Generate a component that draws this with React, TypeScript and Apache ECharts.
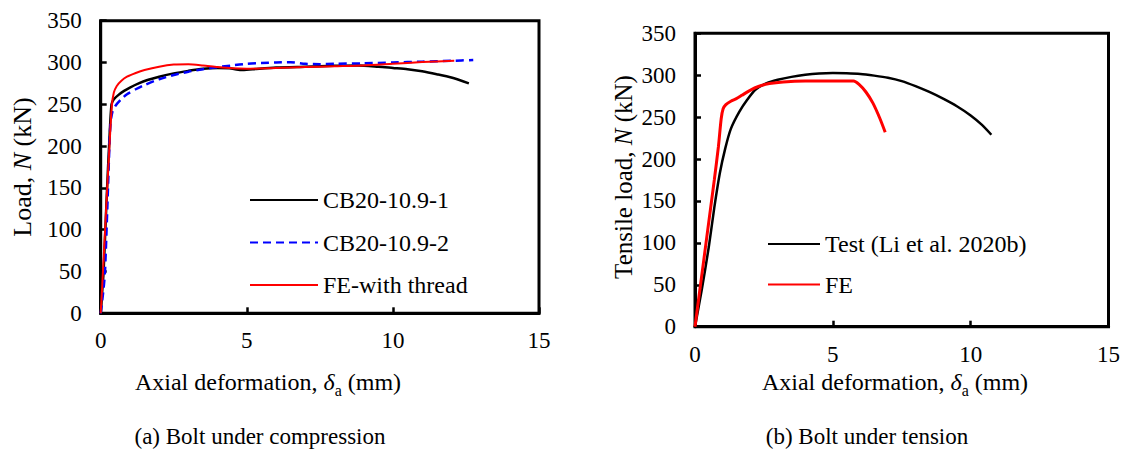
import React, { useEffect, useRef } from "react";
import * as echarts from "echarts";

const FONT = "Liberation Serif";

// Axis ranges shared by both panels
const X_RANGE = { min: 0, max: 15, interval: 5 };
const Y_RANGE = { min: 0, max: 350, interval: 50 };

// (a) Bolt under compression — [axial deformation (mm), load (kN)]
const compTest1: [number, number][] = [
  [0, 0], [0.05, 25], [0.1, 50], [0.2, 135], [0.3, 210], [0.37, 250], [0.45, 256],
  [0.6, 261], [0.8, 266], [1.0, 270], [1.3, 275], [1.6, 279], [2.0, 283], [2.5, 287],
  [3.0, 290], [3.5, 292.5], [4.0, 293.5], [4.4, 293], [4.8, 291], [5.2, 292], [6.0, 294],
  [7.0, 295], [8.0, 296], [8.8, 296.5], [9.5, 295], [10.0, 293.5], [10.5, 292],
  [11.0, 289.5], [11.5, 286], [12.0, 282], [12.6, 275],
];
const compTest2: [number, number][] = [
  [0, 0], [0.1, 30], [0.15, 52], [0.25, 150], [0.33, 225], [0.4, 241], [0.5, 248],
  [0.7, 256], [0.9, 262], [1.2, 268], [1.5, 273], [2.0, 280], [2.5, 285], [3.0, 289],
  [3.5, 292], [4.0, 294.5], [4.5, 296.5], [5.0, 298.5], [5.5, 299.5], [6.0, 300],
  [6.5, 300.3], [7.0, 298.5], [7.5, 298], [8.0, 298.5], [9.0, 299], [10.0, 300],
  [11.0, 301], [12.0, 302], [12.75, 303],
];
const compFE: [number, number][] = [
  [0, 0], [0.1, 65], [0.2, 135], [0.3, 200], [0.38, 248], [0.45, 264], [0.55, 272],
  [0.7, 278], [0.9, 283], [1.2, 287.5], [1.5, 291], [2.0, 295], [2.5, 297.5], [3.0, 298],
  [3.5, 296.5], [4.0, 294.5], [4.5, 293], [5.0, 292.5], [6.0, 293.5], [7.0, 294.5],
  [8.0, 295.5], [9.0, 296.5], [10.0, 298.5], [11.0, 300.5], [12.1, 302],
];

// (b) Bolt under tension — [axial deformation (mm), tensile load (kN)]
const tensTest: [number, number][] = [
  [0, 0], [0.25, 45], [0.5, 95], [0.7, 142], [0.9, 183], [1.1, 213], [1.3, 236],
  [1.6, 256], [1.9, 271], [2.2, 283], [2.6, 290.5], [3.0, 294.5], [3.5, 298],
  [4.0, 300.5], [4.5, 302], [5.0, 302.5], [5.5, 302.3], [6.0, 301.5], [6.5, 299.5],
  [7.0, 297], [7.5, 293], [8.0, 287], [8.5, 280], [9.0, 272], [9.5, 263], [10.0, 252],
  [10.4, 241], [10.75, 229],
];
const tensFE: [number, number][] = [
  [0, 0], [0.3, 75], [0.5, 125], [0.7, 175], [0.85, 215], [0.95, 248], [1.02, 260],
  [1.12, 265], [1.3, 269], [1.5, 272], [1.7, 276], [2.0, 282], [2.3, 286.5], [2.7, 290],
  [3.2, 292], [4.0, 293], [5.0, 293], [5.75, 293], [5.95, 289], [6.2, 280], [6.45, 267],
  [6.7, 249], [6.9, 232],
];

const compNames = ["CB20-10.9-1", "CB20-10.9-2", "FE-with thread"];
const tensNames = ["Test (Li et al. 2020b)", "FE"];
const captions = ["(a) Bolt under compression", "(b) Bolt under tension"];

const axisBase = (range: { min: number; max: number; interval: number }, gridIndex: number, margin: number) => ({
  type: "value" as const,
  gridIndex,
  min: range.min,
  max: range.max,
  interval: range.interval,
  axisLine: { show: true, onZero: false, lineStyle: { color: "#000", width: 3 } },
  axisTick: { show: true, inside: true, length: 6, lineStyle: { color: "#000", width: 2.5 } },
  axisLabel: { color: "#000", fontFamily: FONT, fontSize: 23, margin },
  splitLine: { show: false },
});

const titleRich = (size: number) => ({
  n: { fontFamily: FONT, fontSize: size, color: "#000", lineHeight: size + 8 },
  i: { fontFamily: FONT, fontSize: size, color: "#000", fontStyle: "italic", lineHeight: size + 8 },
  s: { fontFamily: FONT, fontSize: Math.round(size * 0.65), color: "#000", verticalAlign: "bottom", lineHeight: Math.round(size * 0.65) },
});

const legendBase = {
  orient: "vertical" as const,
  itemHeight: 14,
  padding: 0,
  selectedMode: false,
  itemStyle: { opacity: 0 },
  textStyle: { fontFamily: FONT, fontSize: 24, color: "#000", lineHeight: 28 },
};

export default function App() {
  const ref = useRef<HTMLDivElement>(null);

  useEffect(() => {
    if (!ref.current) return;
    const chart = echarts.init(ref.current, undefined, { renderer: "svg" });

    const line = (name: string, data: [number, number][], idx: number, color: string, width: number, type: any = "solid") => ({
      name,
      type: "line" as const,
      xAxisIndex: idx,
      yAxisIndex: idx,
      data,
      symbol: "none",
      smooth: 0.25,
      lineStyle: { color, width, type },
      itemStyle: { color },
      emphasis: { disabled: true },
    });

    const captionStyle = { fontFamily: FONT, fontSize: 23, fill: "#000", align: "center", verticalAlign: "middle" };
    const xTitle = "{n|Axial deformation, }{i|δ}{s|a}{n| (mm)}";

    chart.setOption({
      animation: false,
      backgroundColor: "#fff",
      grid: [
        { left: 100.7, top: 20.7, width: 438.3, height: 292.6, show: true, borderColor: "#000", borderWidth: 3, containLabel: false },
        { left: 695, top: 33.3, width: 415, height: 293.4, show: true, borderColor: "#000", borderWidth: 3, containLabel: false },
      ],
      xAxis: [axisBase(X_RANGE, 0, 16), axisBase(X_RANGE, 1, 16)],
      yAxis: [axisBase(Y_RANGE, 0, 19), axisBase(Y_RANGE, 1, 19)],
      legend: [
        { ...legendBase, data: compNames, left: 249, top: 186, itemWidth: 68, itemGap: 14.5 },
        { ...legendBase, data: tensNames, left: 767, top: 230, itemWidth: 52, itemGap: 12.6 },
      ],
      series: [
        line(compNames[0], compTest1, 0, "#000000", 2.5),
        line(compNames[1], compTest2, 0, "#0000ff", 2.5, [8, 5]),
        line(compNames[2], compFE, 0, "#ff0000", 2),
        line(tensNames[0], tensTest, 1, "#000000", 2.5),
        line(tensNames[1], tensFE, 1, "#ff0000", 3),
      ],
      graphic: [
        {
          type: "text", x: 22, y: 167, rotation: Math.PI / 2,
          style: { text: "{n|Load, }{i|N}{n| (kN)}", rich: titleRich(26), align: "center", verticalAlign: "middle" },
        },
        {
          type: "text", x: 623, y: 177, rotation: Math.PI / 2,
          style: { text: "{n|Tensile load, }{i|N}{n| (kN)}", rich: titleRich(25), align: "center", verticalAlign: "middle" },
        },
        { type: "text", x: 268, y: 382, style: { text: xTitle, rich: titleRich(24), align: "center", verticalAlign: "middle" } },
        { type: "text", x: 895, y: 382, style: { text: xTitle, rich: titleRich(24), align: "center", verticalAlign: "middle" } },
        { type: "text", x: 260, y: 436, style: { ...captionStyle, text: captions[0] } },
        { type: "text", x: 867, y: 436, style: { ...captionStyle, text: captions[1] } },
      ],
    });

    return () => chart.dispose();
  }, []);

  return (
    <div
      ref={ref}
      style={{ position: "absolute", left: 0, top: 0, width: 1123, height: 461, background: "#fff" }}
    />
  );
}
